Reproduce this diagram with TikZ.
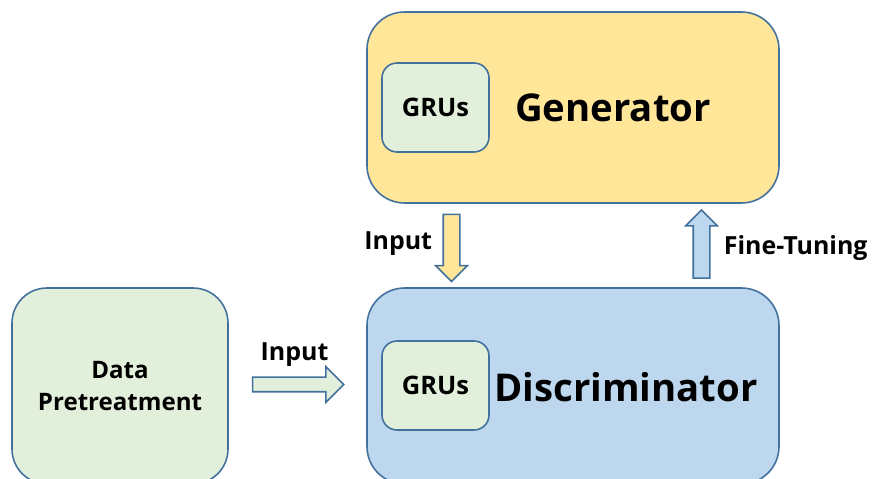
\documentclass[tikz,border=0pt]{standalone}
\usepackage{fontspec}
\setmainfont{Open Sans}
\usetikzlibrary{
    positioning,
    calc,
    shapes.arrows
}
\definecolor{edgeblue}{HTML}{41719C}
\definecolor{genyellow}{HTML}{FFE699}
\definecolor{discblue}{HTML}{BDD7EE}
\definecolor{palegreen}{HTML}{E2EFDA}
\tikzset{
    % --- Large rounded stage block ---
    stage/.style = {
        rectangle, draw=edgeblue, line width=0.9pt,
        rounded corners=0.75cm,
        minimum width=8.24cm, minimum height=3.92cm
    },
    % --- Inner recurrent unit box ---
    gru box/.style = {
        rectangle, draw=edgeblue, line width=0.9pt,
        rounded corners=0.3cm, fill=palegreen,
        minimum width=2.14cm, minimum height=1.78cm,
        font=\bfseries\fontsize{14.5}{17}\selectfont
    },
    % --- Stage title ---
    stage title/.style = {
        font=\bfseries\fontsize{21.8}{26}\selectfont
    },
    % --- Text next to a flow arrow ---
    flow text/.style = {
        font=\bfseries\fontsize{14.2}{17}\selectfont, inner sep=0pt
    },
    % --- Hollow block arrow (horizontal) ---
    flow arrow/.style = {
        single arrow, draw=edgeblue, line width=0.9pt,
        inner xsep=0pt, inner ysep=0.15cm,
        single arrow head extend=0.15cm
    },
    % --- Same arrow standing upright ---
    flow arrow v/.style = {
        flow arrow, inner xsep=0.15cm, inner ysep=0pt
    }
}

\begin{document}
\begin{tikzpicture}

\useasboundingbox (0, 0) rectangle (17.54, 9.58);

% ---------------------------------------------------------
% Generator (top)
% ---------------------------------------------------------
\node[stage, fill=genyellow, minimum height=3.82cm] (Gen) at (11.46, 7.43) {};
\node[gru box] (GRU_G) at (8.71, 7.43) {GRUs};
\node[stage title] (GenTitle) at (12.26, 7.42) {Generator};

% ---------------------------------------------------------
% Discriminator (bottom right)
% ---------------------------------------------------------
\node[stage, fill=discblue] (Disc) at (11.46, 1.86) {};
\node[gru box] (GRU_D) at (8.71, 1.87) {GRUs};
\node[stage title] (DiscTitle) at (12.52, 1.84) {Discriminator};

% ---------------------------------------------------------
% Data pretreatment (bottom left)
% ---------------------------------------------------------
\node[stage, fill=palegreen, minimum width=4.32cm, rounded corners=0.7cm,
      font=\bfseries\fontsize{13.7}{18}\selectfont, align=center] (DataPre) at (2.4, 1.86)
    {Data\\Pretreatment};

% ---------------------------------------------------------
% Arrows between the stages
% ---------------------------------------------------------
\node[flow arrow v, fill=genyellow, shape border rotate=270, minimum height=1.34cm]
    (ArrIn) at ($(Gen.south) + (-2.43, -0.80)$) {};
\node[flow text, left=0.2cm of ArrIn] (InText) {Input};

\node[flow arrow v, fill=discblue, shape border rotate=90, minimum height=1.36cm]
    (ArrFT) at ($(Disc.north) + (2.57, 0.78)$) {};
\node[flow text, right=0.26cm of ArrFT] (FTText) {Fine-Tuning};

\node[flow arrow, fill=palegreen, minimum height=1.82cm,
      inner ysep=0.13cm, single arrow head extend=0.21cm]
    (ArrData) at ($(DataPre.east)!0.5!(Disc.west) + (-0.06, 0.03)$) {};
\node[flow text, above=0.2cm of ArrData] (DataText) {Input};

\end{tikzpicture}
\end{document}
